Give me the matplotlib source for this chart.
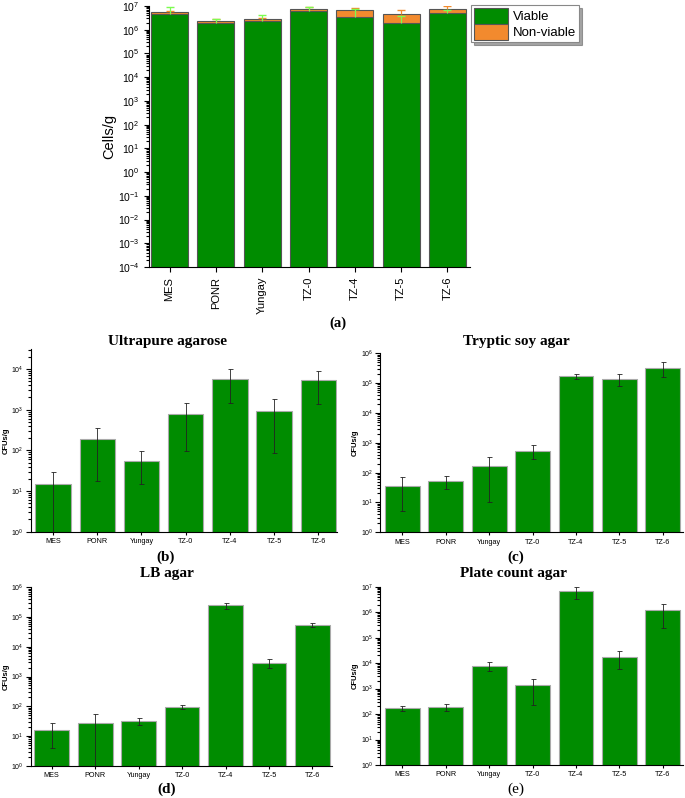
import numpy as np
import matplotlib
matplotlib.use("Agg")
import matplotlib.pyplot as plt
from matplotlib.ticker import LogLocator, NullFormatter

plt.rcParams['font.family'] = ['Liberation Sans', 'DejaVu Sans']

# --- datos ---
sites = ['MES', 'PONR', 'Yungay', 'TZ-0', 'TZ-4', 'TZ-5', 'TZ-6']

# (a) recuento de celulas
viable = [4.7e6, 1.87e6, 2.25e6, 6.0e6, 3.5e6, 1.86e6, 5.0e6]
nonviable = [0.7e6, 0.43e6, 0.5e6, 1.2e6, 3.0e6, 2.6e6, 2.5e6]
viable_err = [4.6e6, 1.1e6, 1.8e6, 2.9e6, 3.7e6, 1.9e6, 1.5e6]
nonviable_err = [0.6e6, 0.4e6, 0.4e6, 1.7e6, 1.7e6, 2.2e6, 2.5e6]

# (b)-(e) CFUs/g
agarose = [14.8, 186, 55, 765, 5640, 940, 5250]
agarose_err = [15, 168, 40, 670, 4150, 855, 3850]
tsa = [37, 52, 170, 547, 1.7e5, 1.42e5, 3.3e5]
tsa_err = [32, 24, 160, 265, 3.5e4, 6.0e4, 1.75e5]
lb = [15.9, 27, 31, 93, 2.45e5, 2950, 5.6e4]
lb_err = [12, 28, 8, 15, 6.0e4, 1050, 9000]
pca = [167, 188, 7850, 1330, 6.65e6, 1.72e4, 1.2e6]
pca_err = [33, 58, 2900, 1100, 3.5e6, 1.15e4, 9.5e5]

W, H = 685, 798
fig = plt.figure(figsize=(W / 100, H / 100), dpi=100)


def px_axes(left, top, right, bottom):
    return fig.add_axes([left / W, 1 - bottom / H, (right - left) / W, (bottom - top) / H])


def px_text(xp, yp, s, size, bold=True):
    fig.text(xp / W, 1 - yp / H, s, ha='center', va='center', fontsize=size,
             fontweight='bold' if bold else 'normal', family='Liberation Serif')


def log_axis(ax, size):
    ax.set_yscale('log')
    ax.yaxis.set_major_locator(LogLocator(base=10, numticks=30))
    ax.yaxis.set_minor_locator(LogLocator(base=10, subs=np.arange(2, 10), numticks=300))
    ax.yaxis.set_minor_formatter(NullFormatter())
    for s in ['top', 'right']:
        ax.spines[s].set_visible(False)
    ax.tick_params(axis='both', which='both', direction='out', labelsize=size, width=0.8)
    ax.tick_params(axis='y', which='major', length=3.5)
    ax.tick_params(axis='y', which='minor', length=2)


x = np.arange(len(sites))
green = '#008C00'
orange = '#F28A2E'

# ---------------- (a) ----------------
ax = px_axes(149, 6, 470, 267)
log_axis(ax, 7.5)
ax.bar(x, viable, 0.8, color=green, edgecolor='#555555', linewidth=0.8, label='Viable')
ax.bar(x, nonviable, 0.8, bottom=viable, color=orange, edgecolor='#555555', linewidth=0.8,
       label='Non-viable')
total = np.array(viable) + np.array(nonviable)
for base, err, col in [(total, nonviable_err, orange), (viable, viable_err, '#7CFC50')]:
    eb = ax.errorbar(x, base, yerr=[np.zeros(7), err], fmt='none', ecolor=col,
                     elinewidth=0.9, capsize=3)
    eb[1][0].set_visible(False)  # sin tapa inferior
ax.set_ylim(1e-4, 1e7)
ax.set_xlim(-0.443, 6.486)
ax.set_xticks(x)
ax.set_xticklabels(sites, rotation=90, fontsize=8)
ax.set_ylabel('Cells/g', fontsize=10.5, labelpad=1)
leg = ax.legend(loc='upper left', bbox_to_anchor=(471 / W, 1 - 5 / H),
                bbox_transform=fig.transFigure, fontsize=9.5, frameon=True,
                fancybox=False, shadow=True, edgecolor='#888888', borderpad=0.2,
                labelspacing=0.0, handlelength=2.6, handleheight=1.5, handletextpad=0.4,
                borderaxespad=0)
leg.get_frame().set_linewidth(0.8)
px_text(338, 323, '(a)', 10.5)


# ---------------- (b)-(e) ----------------
def panel(box, vals, errs, ylim, xlim):
    ax = px_axes(*box)
    log_axis(ax, 5)
    ax.bar(x, vals, 0.8, color=green, edgecolor='#AAAAAA', linewidth=0.8)
    ax.errorbar(x, vals, yerr=errs, fmt='none', ecolor='#222222', elinewidth=0.6,
                capsize=1.8, capthick=0.6)
    ax.set_ylim(*ylim)
    ax.set_xlim(*xlim)
    ax.set_xticks(x)
    ax.set_xticklabels(sites, fontsize=5.2)
    ax.tick_params(axis='x', length=2.5, pad=2)
    ax.tick_params(axis='y', pad=1.5)
    ax.set_ylabel('CFUs/g', fontsize=5.5, fontweight='bold', labelpad=1)
    return ax


panel((30.7, 349, 337, 531.7), agarose, agarose_err, (1, 3.1e4), (-0.504, 6.42))
panel((380, 353.3, 683, 532.3), tsa, tsa_err, (1, 1e6), (-0.518, 6.47))
panel((30.7, 587.3, 332, 765.7), lb, lb_err, (1, 1e6), (-0.483, 6.45))
panel((380, 586.7, 683, 765), pca, pca_err, (1, 1e7), (-0.518, 6.47))

# titulos y etiquetas de panel
px_text(167, 342, 'Ultrapure agarose', 11)
px_text(516, 342, 'Tryptic soy agar', 11)
px_text(167, 574, 'LB agar', 11)
px_text(514, 574, 'Plate count agar', 11)
px_text(166, 557, '(b)', 11)
px_text(516, 557, '(c)', 11)
px_text(167, 789, '(d)', 11)
px_text(516, 789, '(e)', 11, bold=False)

fig.savefig('out.png', dpi=100)
